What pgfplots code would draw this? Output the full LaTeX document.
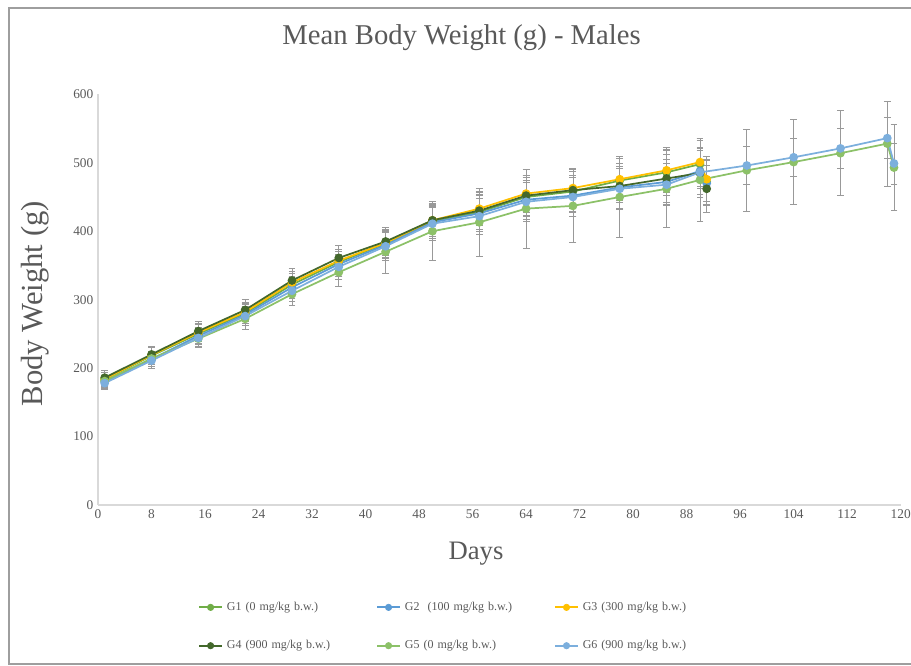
\documentclass[border=0pt]{standalone}
\usepackage{fontspec}
\setmainfont{Liberation Serif}
\usepackage{pgfplots}
\pgfplotsset{compat=1.18}
\usepackage{pgfplotstable}
\definecolor{cG1}{HTML}{70AD47}
\definecolor{cG2}{HTML}{5B9BD5}
\definecolor{cG3}{HTML}{FFC000}
\definecolor{cG4}{HTML}{43682B}
\definecolor{cG5}{HTML}{8CC168}
\definecolor{cG6}{HTML}{7CAFDD}
\definecolor{txt}{HTML}{595959}
\definecolor{axl}{HTML}{D9D9D9}
\definecolor{ebar}{HTML}{999999}

\pgfplotstableread{
d w e
1 183 10
8 218 12
15 250 14
22 280 15
29 322 17
36 355 18
43 382 20
50 414 24
57 428 26
64 450 28
71 458 30
78 474 32
85 486 34
90 498 35
91 472 33
}\gone
\pgfplotstableread{
d w e
1 180 10
8 213 11
15 247 13
22 278 15
29 318 16
36 352 18
43 380 20
50 413 23
57 426 26
64 446 28
71 452 30
78 464 31
85 472 33
90 488 34
91 470 33
}\gtwo
\pgfplotstableread{
d w e
1 184 9
8 219 11
15 252 13
22 282 14
29 325 16
36 357 17
43 383 19
50 416 23
57 433 25
64 455 27
71 463 29
78 476 31
85 489 33
90 501 35
91 476 33
}\gthree
\pgfplotstableread{
d w e
1 186 10
8 220 12
15 254 14
22 285 15
29 328 17
36 361 18
43 385 21
50 416 24
57 430 27
64 452 29
71 460 31
78 466 33
85 477 35
90 485 36
91 462 34
}\gfour
\pgfplotstableread{
d w e
1 181 9
8 214 11
15 243 13
22 272 15
29 308 16
36 340 20
43 370 31
50 400 43
57 413 50
64 433 58
71 437 54
78 450 59
85 462 56
90 475 61
97 489 60
104 501 62
111 514 62
118 528 62
119 493 63
}\gfive
\pgfplotstableread{
d w e
1 178 9
8 211 11
15 244 13
22 276 14
29 313 16
36 348 18
43 378 21
50 411 24
57 422 26
64 443 28
71 450 29
78 462 30
85 468 31
90 486 32
97 496 28
104 508 28
111 521 29
118 536 30
119 499 30
}\gsix

\begin{document}
\begin{tikzpicture}
\useasboundingbox (-73.5pt,-120.75pt) rectangle (609.75pt,378.75pt);
\draw[color=black!38, line width=1.5pt] (-66.75pt,-119.5pt) rectangle (615pt,372.75pt);
\begin{axis}[
  at={(0pt,0pt)}, anchor=south west,
  scale only axis, width=602pt, height=308pt,
  xmin=0, xmax=120, ymin=0, ymax=600,
  xtick={0,8,...,120}, ytick={0,100,...,600},
  axis lines*=left,
  axis line style={axl, line width=0.8pt},
  major tick length=0pt,
  tick label style={font=\fontsize{10}{12}\selectfont, text=txt},
  /pgf/number format/assume math mode=true,
  xlabel={Days}, ylabel={Body Weight (g)},
  xlabel style={font=\fontsize{20}{24}\selectfont, text=txt, at={(axis description cs:0.471,-0.118)}, anchor=center},
  ylabel style={font=\fontsize{23}{27}\selectfont, text=txt, at={(axis description cs:-0.0785,0.49)}, anchor=center, rotate=0},
  title={Mean Body Weight (g) - Males},
  title style={font=\fontsize{21.5}{25}\selectfont, text=txt, at={(axis description cs:0.453,1.118)}, anchor=center},
  legend columns=3,
  legend style={draw=none, fill=none, at={(axis description cs:0.1246,-0.2296)}, anchor=north west,
    font=\fontsize{9}{11}\selectfont, text=txt, inner sep=0pt, row sep=17pt,
    /tikz/every even column/.append style={text width=105pt, column sep=5pt},
    /tikz/every odd column/.append style={column sep=1pt}},
  legend cell align=left,
  legend image code/.code={%
    \draw[line width=1.4pt, mark=none] (0cm,0cm) -- (0.6cm,0cm);
    \draw[mark=*, mark size=2.4pt, line width=0.5pt] plot coordinates {(0.3cm,0cm)};},
  every axis plot/.append style={line width=1.3pt, mark=*, mark size=2.6pt},
  error bars/y dir=both, error bars/y explicit,
  error bars/error bar style={ebar, line width=0.6pt},
  error bars/error mark options={ebar, rotate=90, mark size=2.6pt, line width=0.6pt},
]
\addplot[color=cG1, mark options={fill=cG1}] table[x=d, y=w, y error=e] {\gone};
\addlegendentry{G1 (0 mg/kg b.w.)}
\addplot[color=cG2, mark options={fill=cG2}] table[x=d, y=w, y error=e] {\gtwo};
\addlegendentry{G2~ (100 mg/kg b.w.)}
\addplot[color=cG3, mark options={fill=cG3}] table[x=d, y=w, y error=e] {\gthree};
\addlegendentry{G3 (300 mg/kg b.w.)}
\addplot[color=cG4, mark options={fill=cG4}] table[x=d, y=w, y error=e] {\gfour};
\addlegendentry{G4 (900 mg/kg b.w.)}
\addplot[color=cG5, mark options={fill=cG5}] table[x=d, y=w, y error=e] {\gfive};
\addlegendentry{G5 (0 mg/kg b.w.)}
\addplot[color=cG6, mark options={fill=cG6}] table[x=d, y=w, y error=e] {\gsix};
\addlegendentry{G6 (900 mg/kg b.w.)}
\end{axis}
\end{tikzpicture}
\end{document}
